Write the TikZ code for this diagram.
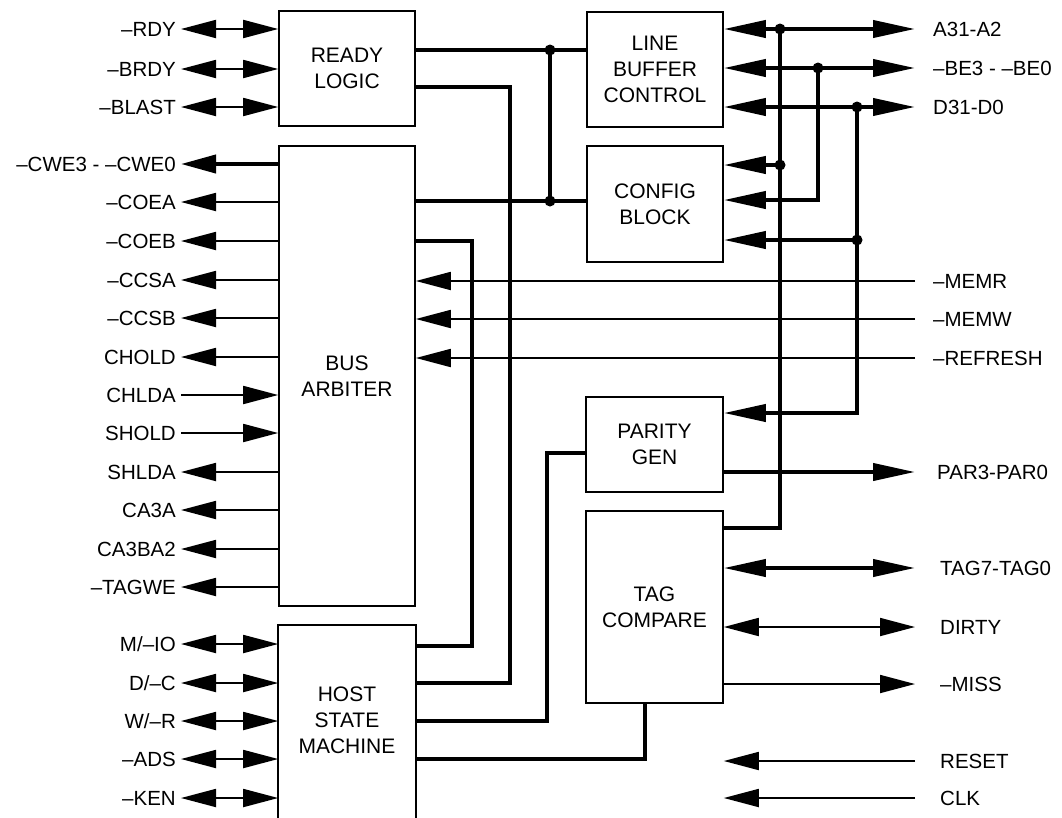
\documentclass[tikz,border=0pt]{standalone}
\usepackage{fontspec}
\setmainfont{Liberation Sans}
\usetikzlibrary{arrows.meta}
\tikzset{
  lh/.tip={Triangle[length=35pt,width=18pt]},
  rh/.tip={Triangle[length=42pt,width=17pt]},
  blk/.style={draw, line width=1.6pt, align=center, inner sep=0pt,
    font=\fontsize{21}{26}\selectfont},
  boxln/.style={line width=1.6pt},
  pinl/.style={anchor=east, inner xsep=5pt, inner ysep=0pt,
    font=\fontsize{20.5}{24}\selectfont, text height=14.5pt, text depth=0pt},
  pinr/.style={anchor=west, inner xsep=0pt, inner ysep=0pt,
    font=\fontsize{20.5}{24}\selectfont, text height=14.5pt, text depth=0pt},
  sig/.style={line width=1.8pt},
  bus/.style={line width=4pt},
}
\begin{document}
\begin{tikzpicture}[x=1pt,y=-1pt]
\useasboundingbox (0,0) rectangle (1062,817);
\fill[white] (0,0) rectangle (1062,817);
\clip (0,0) rectangle (1062,817);

% blocks
\node[blk, minimum width=136pt, minimum height=115pt] (rl) at (347,68.5) {READY\\LOGIC};
\node[blk, minimum width=136pt, minimum height=460pt] (ba) at (347,376) {BUS\\ARBITER};
\node[blk, draw=none, minimum width=136pt, minimum height=188pt] (hsm) at (347,720) {HOST\\STATE\\MACHINE};
\draw[boxln] ([yshift=-10pt]hsm.south west) |- (hsm.north east) -- ([yshift=-10pt]hsm.south east);
\node[blk, minimum width=136pt, minimum height=115pt] (lbc) at (655,69.5) {LINE\\BUFFER\\CONTROL};
\node[blk, minimum width=136pt, minimum height=116pt] (cfg) at (655,204) {CONFIG\\BLOCK};
\node[blk, minimum width=137pt, minimum height=95pt] (pg) at (654.5,444.5) {PARITY\\GEN};
\node[blk, minimum width=137pt, minimum height=192pt] (tc) at (654.5,607) {TAG\\COMPARE};

% left pins
\node[pinl] (rdy) at (181,29) {–RDY};
\node[pinl] (brdy) at (181,69) {–BRDY};
\node[pinl] (blast) at (181,107) {–BLAST};
\node[pinl] (cwe) at (181,164) {–CWE3 - –CWE0};
\node[pinl] (coea) at (181,202) {–COEA};
\node[pinl] (coeb) at (181,241) {–COEB};
\node[pinl] (ccsa) at (181,280) {–CCSA};
\node[pinl] (ccsb) at (181,318) {–CCSB};
\node[pinl] (chold) at (181,357) {CHOLD};
\node[pinl] (chlda) at (181,395) {CHLDA};
\node[pinl] (shold) at (181,433) {SHOLD};
\node[pinl] (shlda) at (181,472) {SHLDA};
\node[pinl] (caa) at (181,510) {CA3A};
\node[pinl] (cab) at (181,549) {CA3BA2};
\node[pinl] (tagwe) at (181,587) {–TAGWE};
\node[pinl] (mio) at (181,644) {M/–IO};
\node[pinl] (dc) at (181,683) {D/–C};
\node[pinl] (wr) at (181,721) {W/–R};
\node[pinl] (ads) at (181,759) {–ADS};
\node[pinl] (ken) at (181,798) {–KEN};

\draw[sig, lh-lh] (rdy.east) -- (rl.west |- rdy.east);
\draw[sig, lh-lh] (brdy.east) -- (rl.west |- brdy.east);
\draw[sig, lh-lh] (blast.east) -- (rl.west |- blast.east);
\draw[bus, lh-] (cwe.east) -- (ba.west |- cwe.east);
\draw[sig, lh-] (coea.east) -- (ba.west |- coea.east);
\draw[sig, lh-] (coeb.east) -- (ba.west |- coeb.east);
\draw[sig, lh-] (ccsa.east) -- (ba.west |- ccsa.east);
\draw[sig, lh-] (ccsb.east) -- (ba.west |- ccsb.east);
\draw[sig, lh-] (chold.east) -- (ba.west |- chold.east);
\draw[sig, -lh] (chlda.east) -- (ba.west |- chlda.east);
\draw[sig, -lh] (shold.east) -- (ba.west |- shold.east);
\draw[sig, lh-] (shlda.east) -- (ba.west |- shlda.east);
\draw[sig, lh-] (caa.east) -- (ba.west |- caa.east);
\draw[sig, lh-] (cab.east) -- (ba.west |- cab.east);
\draw[sig, lh-] (tagwe.east) -- (ba.west |- tagwe.east);
\draw[sig, lh-lh] (mio.east) -- (hsm.west |- mio.east);
\draw[sig, lh-lh] (dc.east) -- (hsm.west |- dc.east);
\draw[sig, lh-lh] (wr.east) -- (hsm.west |- wr.east);
\draw[sig, lh-lh] (ads.east) -- (hsm.west |- ads.east);
\draw[sig, lh-lh] (ken.east) -- (hsm.west |- ken.east);

% right pins
\coordinate (rx) at (915,0);
\node[pinr] (a31) at (933,29) {A31-A2};
\node[pinr] (be) at (933,68) {–BE3 - –BE0};
\node[pinr] (d31) at (933,107) {D31-D0};
\node[pinr] (memr) at (933,281) {–MEMR};
\node[pinr] (memw) at (933,319) {–MEMW};
\node[pinr] (refr) at (933,358) {–REFRESH};
\node[pinr] (par) at (937,472) {PAR3-PAR0};
\node[pinr] (tag) at (940,568) {TAG7-TAG0};
\node[pinr] (dirty) at (940,627) {DIRTY};
\node[pinr] (miss) at (940,684) {–MISS};
\node[pinr] (reset) at (940,761) {RESET};
\node[pinr] (clk) at (940,798) {CLK};

\draw[bus, rh-rh] (lbc.east |- a31.west) -- (rx |- a31.west);
\draw[bus, rh-rh] (lbc.east |- be.west) -- (rx |- be.west);
\draw[bus, rh-rh] (lbc.east |- d31.west) -- (rx |- d31.west);

% A31-A2 branches
\coordinate (ja) at (780,29);
\coordinate (jac) at (780,165);
\coordinate (jat) at (780,528);
\draw[bus] (ja) -- (jat) -- (tc.east |- jat);
\draw[bus, -rh] (jac) -- (cfg.east |- jac);
\fill (ja) circle (5.5pt);
\fill (jac) circle (5.5pt);

% BE branch
\coordinate (jb) at (818,68);
\coordinate (jbc) at (818,200);
\draw[bus, -rh] (jb) -- (jbc) -- (cfg.east |- jbc);
\fill (jb) circle (5.5pt);

% D31 branches
\coordinate (jd) at (857,107);
\coordinate (jdc) at (857,240);
\coordinate (jdp) at (857,413);
\draw[bus, -rh] (jd) -- (jdp) -- (pg.east |- jdp);
\draw[bus, -rh] (jdc) -- (cfg.east |- jdc);
\fill (jd) circle (5.5pt);
\fill (jdc) circle (5.5pt);

% memory control inputs
\draw[sig, -lh] (rx |- memr.west) -- (ba.east |- memr.west);
\draw[sig, -lh] (rx |- memw.west) -- (ba.east |- memw.west);
\draw[sig, -lh] (rx |- refr.west) -- (ba.east |- refr.west);

\draw[bus, -rh] (pg.east |- par.west) -- (rx |- par.west);
\draw[bus, rh-rh] (tc.east |- tag.west) -- (rx |- tag.west);
\draw[sig, lh-lh] (tc.east |- dirty.west) -- (rx |- dirty.west);
\draw[sig, -lh] (tc.east |- miss.west) -- (rx |- miss.west);
\draw[sig, -lh] (rx |- reset.west) -- (tc.east |- reset.west);
\draw[sig, -lh] (rx |- clk.west) -- (tc.east |- clk.west);

% internal buses
\coordinate (j1) at (550,50);
\coordinate (j2) at (550,201);
\draw[bus] (rl.east |- j1) -- (lbc.west |- j1);
\draw[bus] (ba.east |- j2) -- (cfg.west |- j2);
\draw[bus] (j1) -- (j2);
\fill (j1) circle (5.5pt);
\fill (j2) circle (5.5pt);

\coordinate (c1) at (510,87);
\coordinate (c1b) at (510,683);
\draw[bus] (rl.east |- c1) -- (c1) -- (c1b) -- (hsm.east |- c1b);

\coordinate (c2) at (472,241);
\coordinate (c2b) at (472,646);
\draw[bus] (ba.east |- c2) -- (c2) -- (c2b) -- (hsm.east |- c2b);

\coordinate (c3) at (547,453);
\coordinate (c3b) at (547,721);
\draw[bus] (pg.west |- c3) -- (c3) -- (c3b) -- (hsm.east |- c3b);

\coordinate (c4) at (645,759);
\draw[bus] (tc.south -| c4) -- (c4) -- (hsm.east |- c4);
\end{tikzpicture}
\end{document}
